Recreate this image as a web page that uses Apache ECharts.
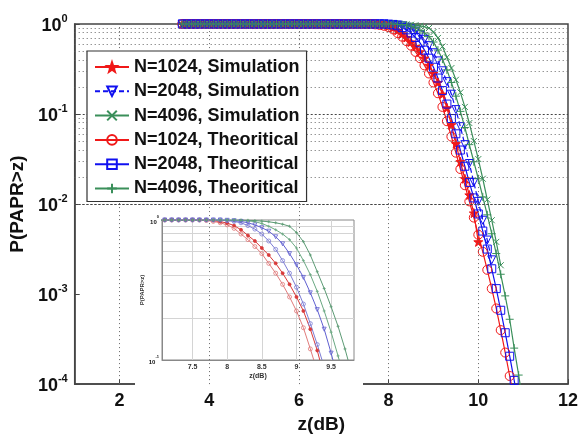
<!DOCTYPE html>
<html><head><meta charset="utf-8">
<script src="https://cdn.jsdelivr.net/npm/echarts@6/dist/echarts.min.js"></script>
<style>html,body{margin:0;padding:0;background:#fff}#c{width:581px;height:439px}</style>
</head><body><div id="c"></div>
<script>
// z (dB) sample points
const zdB = [
  3.4,3.5,3.6,3.7,3.8,3.9,4.0,4.1,4.2,4.3,
  4.4,4.5,4.6,4.7,4.8,4.9,5.0,5.1,5.2,5.3,
  5.4,5.5,5.6,5.7,5.8,5.9,6.0,6.1,6.2,6.3,
  6.4,6.5,6.6,6.7,6.8,6.9,7.0,7.1,7.2,7.3,
  7.4,7.5,7.6,7.7,7.8,7.9,8.0,8.1,8.2,8.3,
  8.4,8.5,8.6,8.7,8.8,8.9,9.0,9.1,9.2,9.3,
  9.4,9.5,9.6,9.7,9.8,9.9,10.0,10.1,10.2,10.3,
  10.4,10.5,10.6,10.7,10.8,10.9,11.0
];
// P(PAPR>z)
const sim1024 = [
  1,1,1,1,1,1,1,1,1,1, 1,1,1,1,1,1,1,1,1,1, 1,1,1,1,1,1,1,1,1,1, 1,1,1,1,1,1,1,1,1,1,
  1,1,1,1,0.991,0.973,0.951,0.912,0.851,0.776,
  0.708,0.631,0.562,0.490,0.417,0.347,0.282,0.224,0.166,0.117,
  0.0759,0.0468,0.0295,0.0191,0.0126,0.00794,0.00380
];
const sim2048 = [
  1,1,1,1,1,1,1,1,1,1, 1,1,1,1,1,1,1,1,1,1, 1,1,1,1,1,1,1,1,1,1, 1,1,1,1,1,1,1,1,1,1,
  1,1,1,1,1,1,0.995,0.989,0.977,0.955,
  0.923,0.881,0.832,0.759,0.676,0.575,0.479,0.389,0.302,0.229,
  0.166,0.112,0.0724,0.0457,0.0282,0.0174,0.0107,0.00661,0.00398,0.00240
];
const sim4096 = [
  1,1,1,1,1,1,1,1,1,1, 1,1,1,1,1,1,1,1,1,1, 1,1,1,1,1,1,1,1,1,1, 1,1,1,1,1,1,1,1,1,1,
  1,1,1,1,1,1,1,1,1,0.995,
  0.991,0.982,0.971,0.955,0.933,0.902,0.813,0.700,0.562,0.427,
  0.324,0.240,0.174,0.120,0.0794,0.0501,0.0316,0.0191,0.0112,0.00661,
  0.00380,0.00209
];
const theo1024 = [
  1,1,1,1,1,1,1,1,1,1, 1,1,1,1,1,1,1,1,1,1, 1,1,1,1,1,1,1,1,1,1, 1,1,1,1,1,1,1,1,1,1,
  1,1,1,0.991,0.977,0.955,0.923,0.871,0.794,0.724,
  0.646,0.575,0.490,0.417,0.347,0.282,0.224,0.170,0.120,0.0832,
  0.0562,0.0372,0.0245,0.0162,0.0107,0.00708,0.00457,0.00295,0.00186,0.00115,
  0.000692,0.000398,0.000224,0.000123,0.0000676
];
const theo2048 = [
  1,1,1,1,1,1,1,1,1,1, 1,1,1,1,1,1,1,1,1,1, 1,1,1,1,1,1,1,1,1,1, 1,1,1,1,1,1,1,1,1,1,
  1,1,1,1,1,1,0.989,0.977,0.955,0.912,
  0.861,0.794,0.708,0.617,0.513,0.417,0.331,0.251,0.182,0.129,
  0.0891,0.0603,0.0398,0.0263,0.0174,0.0117,0.00776,0.00501,0.00316,0.00191,
  0.00115,0.000661,0.000372,0.000204,0.000110,0.0000575
];
const theo4096 = [
  1,1,1,1,1,1,1,1,1,1, 1,1,1,1,1,1,1,1,1,1, 1,1,1,1,1,1,1,1,1,1, 1,1,1,1,1,1,1,1,1,1,
  1,1,1,1,1,1,1,1,0.993,0.986,
  0.973,0.944,0.902,0.851,0.794,0.724,0.631,0.513,0.407,0.309,
  0.224,0.158,0.107,0.0708,0.0457,0.0295,0.0191,0.0120,0.00759,0.00468,
  0.00282,0.00166,0.000955,0.000525,0.000251,0.000126,0.0000603
];
const names = ['N=1024, Simulation','N=2048, Simulation','N=4096, Simulation',
               'N=1024, Theoritical','N=2048, Theoritical','N=4096, Theoritical'];
const xTicks = [2,4,6,8,10,12];
const insetXTicks = [7.5,8,8.5,9,9.5];

const pairs = ys => ys.map((y,i) => [zdB[i], y]);
const FONT = 'Liberation Sans';
const RED = '#f01818', BLUE = '#1010f0', GREEN = '#3a8f5a';
const STAR = 'path://M0,-10L2.35,-3.24L9.51,-3.09L3.8,1.24L5.88,8.09L0,4L-5.88,8.09L-3.8,1.24L-9.51,-3.09L-2.35,-3.24Z';
const XMARK = 'path://M-5,-5L5,5M-5,5L5,-5';
const PLUS = 'path://M-5,0L5,0M0,-5L0,5';

function mainSeries(name, ys, color, symbol, size, opts) {
  opts = opts || {};
  return Object.assign({
    name, type:'line', xAxisIndex:0, yAxisIndex:0, data: pairs(ys), z:3,
    symbol, symbolSize: size, animation:false, clip:true,
    lineStyle:{color, width:1.2, type: opts.dash ? [5,3] : 'solid'},
    itemStyle:{color: opts.fill ? color : 'none', borderColor: color, borderWidth: 1}
  }, opts.extra || {});
}
function insetSeries(ys, color, symbol, size, fill) {
  return {
    type:'line', xAxisIndex:1, yAxisIndex:1, data: pairs(ys), z:8,
    symbol, symbolSize:size, animation:false, clip:true,
    lineStyle:{color, width:1},
    itemStyle:{color: fill ? color : 'none', borderColor: color, borderWidth: 0.8}
  };
}

// grid line positions (decoration)
const mainMinor = [], mainMajor = [1e-3,1e-2,1e-1];
for (let d=-4; d<0; d++) for (let k=2; k<=9; k++) mainMinor.push(k*Math.pow(10,d));
const insetMinor = [0.2,0.3,0.4,0.5,0.6,0.7,0.8,0.9];

const mlBase = {silent:true, symbol:['none','none'], label:{show:false}, animation:false};

const supRich = (b, s) => ({
  b:{fontSize:b, fontWeight:'bold', fontFamily:FONT, color:'#111', lineHeight:b+4, verticalAlign:'bottom'},
  s:{fontSize:s, fontWeight:'bold', fontFamily:FONT, color:'#111', lineHeight:s, verticalAlign:'top'}
});

const option = {
  backgroundColor:'#fff',
  animation:false,
  grid:[
    {left:72, right:8, top:24, bottom:46, show:true, borderColor:'#444', borderWidth:1.5, z:0},
    {left:162, right:227, top:220, bottom:79, show:true, borderColor:'#888', borderWidth:1, backgroundColor:'#fff', z:5}
  ],
  graphic:[
    {type:'rect', shape:{x:135, y:200, width:228, height:186}, style:{fill:'#fff'}, z:4, silent:true}
  ],
  xAxis:[
    {type:'value', gridIndex:0, min:1, max:12,
     axisLine:{show:true, lineStyle:{color:'#444', width:1.5}},
     axisTick:{show:true, inside:true, length:5, customValues:xTicks, lineStyle:{color:'#444'}},
     axisLabel:{customValues:xTicks, margin:8, fontSize:18, fontWeight:'bold', fontFamily:FONT, color:'#111'},
     splitLine:{show:false},
     name:'z(dB)', nameLocation:'middle', nameGap:26,
     nameTextStyle:{fontSize:19, fontWeight:'bold', fontFamily:FONT, color:'#111'}},
    {type:'value', gridIndex:1, min:7.06, max:9.83, z:9,
     axisLine:{show:true, lineStyle:{color:'#888', width:1}},
     axisTick:{show:false, customValues:insetXTicks},
     axisLabel:{customValues:insetXTicks, margin:4, fontSize:7, fontWeight:'bold', fontFamily:FONT, color:'#333'},
     splitLine:{show:false},
     name:'z(dB)', nameLocation:'middle', nameGap:13,
     nameTextStyle:{fontSize:7, fontWeight:'bold', fontFamily:FONT, color:'#333'}}
  ],
  yAxis:[
    {type:'log', logBase:10, gridIndex:0, min:1e-4, max:1,
     axisLine:{show:true, lineStyle:{color:'#444', width:1.5}},
     axisTick:{show:true, inside:true, length:5, lineStyle:{color:'#444'}},
     axisLabel:{margin:7, formatter: v => '{b|10}{s|' + Math.round(Math.log10(v)) + '}', rich: supRich(18,11)},
     splitLine:{show:false}, minorTick:{show:false},
     name:'P(PAPR>z)', nameLocation:'middle', nameGap:40,
     nameTextStyle:{fontSize:19, fontWeight:'bold', fontFamily:FONT, color:'#111'}},
    {type:'log', logBase:10, gridIndex:1, min:0.1, max:1, z:9,
     axisLine:{show:true, lineStyle:{color:'#888', width:1}},
     axisTick:{show:false},
     axisLabel:{margin:3, formatter: v => '{b|10}{s|' + Math.round(Math.log10(v)) + '}', rich: supRich(6,4)},
     splitLine:{show:false},
     name:'P(PAPR>z)', nameLocation:'middle', nameGap:9,
     nameTextStyle:{fontSize:6, fontWeight:'bold', fontFamily:FONT, color:'#333'}}
  ],
  legend:{
    data: names, orient:'vertical', left:87, top:51,
    itemWidth:34, itemHeight:12, itemGap:4.3,
    padding:[6,7,3,7], backgroundColor:'#fff', borderColor:'#333', borderWidth:1.2,
    textStyle:{fontFamily:FONT, fontWeight:'bold', fontSize:18, color:'#111', lineHeight:20},
    selectedMode:false, z:10
  },
  series:[
    // main grid lines
    {type:'line', xAxisIndex:0, yAxisIndex:0, data:[], z:1, silent:true,
     markLine:Object.assign({}, mlBase, {lineStyle:{color:'#666', type:[1,3], width:1},
       data: xTicks.filter(v => v < 12).map(v => ({xAxis:v})).concat(mainMinor.map(v => ({yAxis:v})))})},
    {type:'line', xAxisIndex:0, yAxisIndex:0, data:[], z:1, silent:true,
     markLine:Object.assign({}, mlBase, {lineStyle:{color:'#444', type:[2,2], width:1},
       data: mainMajor.map(v => ({yAxis:v}))})},
    // inset grid lines
    {type:'line', xAxisIndex:1, yAxisIndex:1, data:[], z:7, silent:true,
     markLine:Object.assign({}, mlBase, {lineStyle:{color:'#d4d4d4', type:'solid', width:1},
       data: insetXTicks.map(v => ({xAxis:v})).concat(insetMinor.map(v => ({yAxis:v})))})},
    // main data
    mainSeries(names[0], sim1024, RED, STAR, 9, {fill:true}),
    mainSeries(names[1], sim2048, BLUE, 'triangle', 8, {dash:true, extra:{symbolRotate:180}}),
    mainSeries(names[2], sim4096, GREEN, XMARK, 6),
    mainSeries(names[3], theo1024, RED, 'circle', 9),
    mainSeries(names[4], theo2048, BLUE, 'rect', 8),
    mainSeries(names[5], theo4096, GREEN, PLUS, 8),
    // inset data
    insetSeries(theo1024, '#e07a7a', 'circle', 4, false),
    insetSeries(sim1024, '#d83a3a', 'circle', 3, true),
    insetSeries(theo2048, '#7c7cd4', 'circle', 4, false),
    Object.assign(insetSeries(sim2048, '#6060d0', 'triangle', 4, false), {symbolRotate:180}),
    insetSeries(theo4096, '#6aa882', PLUS, 3, false),
    insetSeries(sim4096, '#5c9a74', PLUS, 3, false)
  ]
};
const chart = echarts.init(document.getElementById('c'), null, {renderer:'canvas'});
chart.setOption(option);
</script>
</body></html>
